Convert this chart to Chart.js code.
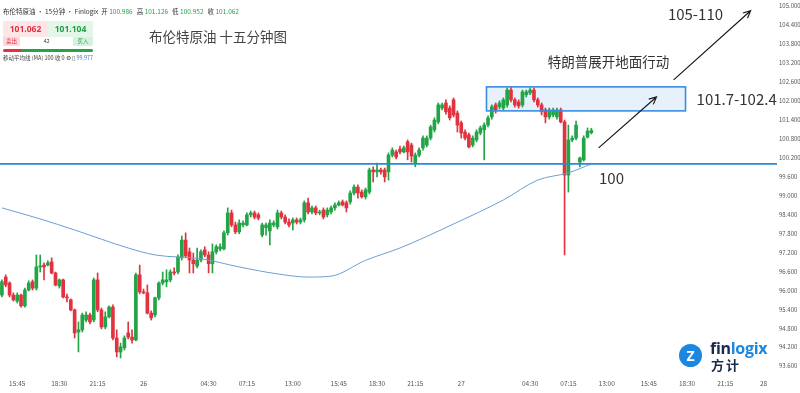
<!DOCTYPE html>
<html>
<head>
<meta charset="utf-8">
<script src="https://cdn.jsdelivr.net/npm/chart.js@4.4.1/dist/chart.umd.min.js"></script>
<style>
  html, body { margin: 0; padding: 0; background: #fff; overflow: hidden; }
  #wrap { position: relative; width: 800px; height: 393px; }
  #wrap canvas { position: absolute; left: 0; top: 0; }
  .cjk { font-family: "Noto Sans CJK SC", "Noto Sans", sans-serif; }
  #head { position: absolute; left: 3px; top: 6px; font-size: 6.5px; color: #333; white-space: nowrap; }
  #head .v { color: #22a447; margin-right: 4px; }
  .cell { position: absolute; box-sizing: border-box; text-align: center; white-space: nowrap; }
  #sellP { left: 3px; top: 21px; width: 45px; height: 16px; background: #fde6e8; color: #e2323f; font: bold 8.5px/16px "Noto Sans", sans-serif; }
  #buyP { left: 48px; top: 21px; width: 45px; height: 16px; background: #e4f6e8; color: #1f9e45; font: bold 8.5px/16px "Noto Sans", sans-serif; }
  #sell { left: 3px; top: 37px; width: 17px; height: 9px; background: #fbd9dc; color: #e2323f; font-size: 5.5px; line-height: 9px; }
  #spread { left: 20px; top: 37px; width: 53px; height: 9px; background: #fff; color: #444; font-size: 5.5px; line-height: 9px; }
  #buy { left: 73px; top: 37px; width: 20px; height: 9px; background: #d8f1de; color: #1f9e45; font-size: 5.5px; line-height: 9px; }
  #barR { left: 3px; top: 49px; width: 18px; height: 3px; background: #e2323f; border-radius: 2px 0 0 2px; }
  #barG { left: 21px; top: 49px; width: 72px; height: 3px; background: #22a447; border-radius: 0 2px 2px 0; }
  #maInfo { position: absolute; left: 3px; top: 54px; font-size: 5.5px; color: #444; white-space: nowrap; }
  #maInfo .b { color: #3a7bd5; }
  #logoDot { position: absolute; left: 679px; top: 344px; width: 23px; height: 23px; border-radius: 50%; background: #1c87e0; color: #fff; font: bold 14px/23px "Noto Sans", sans-serif; text-align: center; }
  #logoTxt { position: absolute; left: 710px; top: 337px; font: bold 16px "Open Sans", sans-serif; color: #1b2a4a; letter-spacing: -0.3px; }
  #logoTxt span { color: #1c87e0; }
  #logoCn { position: absolute; left: 711px; top: 355px; font-size: 13px; font-weight: bold; color: #1b2a4a; letter-spacing: 2px; }
</style>
</head>
<body>
<div id="wrap">
  <canvas id="chart" width="800" height="393"></canvas>
  <div id="head" class="cjk">布伦特原油 · 15分钟 · Finlogix&nbsp;&nbsp;开 <span class="v">100.986</span>高 <span class="v">101.126</span>低 <span class="v">100.952</span>收 <span class="v">101.062</span></div>
  <div id="sellP" class="cell">101.062</div>
  <div id="buyP" class="cell">101.104</div>
  <div id="sell" class="cell cjk">卖出</div>
  <div id="spread" class="cell cjk">42</div>
  <div id="buy" class="cell cjk">买入</div>
  <div id="barR" class="cell"></div>
  <div id="barG" class="cell"></div>
  <div id="maInfo" class="cjk">移动平均线 (MA) 100 收 0 ⚙ ▯ <span class="b">99.977</span></div>
  <div id="logoDot">Z</div>
  <div id="logoTxt">fin<span>logix</span></div>
  <div id="logoCn" class="cjk">方计</div>
</div>
<script>
// 15 minute Brent candles
const open = [
  95.85, 96.42, 96.23, 95.85, 95.66, 95.85, 95.51, 96.01, 96.27, 96.07,
  96.74, 96.80, 96.80, 96.90, 96.55, 96.14, 96.33, 95.79, 95.70, 95.38,
  94.68, 94.75, 95.06, 95.22, 95.06, 96.33, 95.38, 94.84, 95.16, 95.47,
  94.49, 94.05, 94.18, 94.65, 94.52, 94.43, 96.49, 95.95, 95.92, 95.28,
  95.22, 95.76, 96.23, 96.27, 96.33, 96.58, 96.58, 97.03, 97.59, 97.22,
  96.96, 96.77, 96.96, 97.28, 97.12, 96.84, 97.22, 97.31, 97.31, 97.82,
  98.45, 98.07, 97.85, 98.07, 98.07, 98.39, 98.45, 98.39, 97.75, 97.98,
  97.88, 98.07, 98.01, 98.45, 98.32, 98.16, 98.13, 98.23, 98.16, 98.23,
  98.77, 98.48, 98.61, 98.45, 98.54, 98.39, 98.48, 98.61, 98.70, 98.80,
  98.77, 98.80, 99.08, 99.27, 99.11, 98.96, 99.11, 99.81, 99.75, 99.81,
  99.81, 99.75, 100.28, 100.38, 100.47, 100.38, 100.70, 100.60, 100.03, 100.28,
  100.51, 100.60, 100.82, 101.08, 101.33, 101.77, 101.93, 101.77, 102.03, 101.61,
  101.30, 101.01, 100.92, 100.60, 100.76, 100.98, 101.08, 101.23, 101.49, 101.87,
  101.81, 101.77, 101.87, 102.34, 102.03, 101.96, 101.87, 102.19, 102.25, 102.34,
  102.03, 101.87, 101.71, 101.49, 101.55, 101.49, 101.71, 101.33, 99.65, 100.76,
  100.82, 100.06, 100.13, 100.85, 100.99
]
const high = [
  96.33, 96.49, 96.27, 95.92, 95.92, 95.88, 96.07, 96.30, 96.33, 97.12,
  97.12, 96.87, 96.93, 97.03, 96.58, 96.36, 96.36, 95.88, 95.73, 95.41,
  95.00, 95.28, 95.32, 95.28, 96.39, 96.55, 95.44, 95.32, 95.51, 95.54,
  94.75, 94.33, 94.56, 95.00, 94.75, 96.55, 96.80, 96.04, 96.17, 95.35,
  95.79, 96.27, 96.58, 96.65, 96.65, 96.71, 97.12, 97.72, 97.82, 97.34,
  97.18, 97.34, 97.28, 97.38, 97.22, 97.47, 97.44, 97.47, 97.88, 98.61,
  98.54, 98.16, 98.23, 98.20, 98.45, 98.51, 98.51, 98.45, 98.13, 98.13,
  98.23, 98.20, 98.54, 98.51, 98.39, 98.26, 98.29, 98.29, 98.29, 98.83,
  98.92, 98.67, 98.67, 98.54, 98.61, 98.61, 98.67, 98.77, 98.83, 98.86,
  98.83, 99.15, 99.34, 99.34, 99.18, 99.24, 99.87, 99.91, 100.03, 99.87,
  99.87, 100.35, 100.51, 100.44, 100.57, 100.57, 100.76, 100.66, 100.35, 100.51,
  100.89, 100.89, 101.23, 101.46, 101.93, 101.93, 102.03, 101.84, 102.09, 101.68,
  101.36, 101.08, 100.98, 100.89, 101.08, 101.20, 101.30, 101.52, 101.87, 101.93,
  102.00, 102.09, 102.41, 102.44, 102.09, 102.03, 102.34, 102.34, 102.41, 102.41,
  102.09, 101.93, 101.77, 101.77, 101.77, 101.77, 101.77, 101.39, 101.23, 100.89,
  101.36, 100.22, 100.89, 101.14, 101.13
]
const low = [
  95.79, 96.11, 95.79, 95.66, 95.60, 95.47, 95.47, 95.98, 96.01, 96.01,
  96.58, 96.33, 96.77, 96.52, 96.14, 96.07, 95.76, 95.63, 95.35, 94.49,
  94.05, 94.68, 95.00, 94.94, 95.00, 95.32, 94.78, 94.78, 95.13, 94.43,
  93.89, 93.86, 94.11, 94.46, 94.33, 94.40, 95.89, 95.89, 95.25, 95.06,
  95.16, 95.70, 96.17, 96.11, 96.27, 96.49, 96.52, 96.96, 97.03, 96.55,
  96.55, 96.71, 96.90, 97.06, 96.55, 96.55, 97.15, 97.25, 97.28, 97.75,
  98.01, 97.79, 97.79, 98.01, 98.04, 98.32, 98.26, 98.23, 97.69, 97.75,
  97.44, 98.01, 97.94, 98.26, 98.10, 98.01, 97.91, 98.10, 98.10, 98.16,
  98.42, 98.42, 98.39, 98.39, 98.26, 98.32, 98.42, 98.54, 98.67, 98.67,
  98.48, 98.73, 99.02, 98.92, 98.92, 98.89, 99.05, 99.43, 99.59, 99.68,
  99.43, 99.49, 100.22, 100.16, 100.32, 100.35, 100.13, 100.06, 99.91, 100.22,
  100.44, 100.54, 100.76, 101.01, 101.27, 101.71, 101.58, 101.39, 101.49, 101.01,
  100.82, 100.76, 100.51, 100.54, 100.70, 100.92, 100.13, 101.17, 101.42, 101.61,
  101.74, 101.71, 101.80, 101.96, 101.80, 101.77, 101.80, 102.12, 102.19, 101.96,
  101.80, 101.55, 101.30, 101.42, 101.49, 101.42, 101.30, 97.12, 99.11, 100.70,
  100.76, 99.91, 100.09, 100.82, 100.95
]
const close = [
  96.27, 96.17, 95.85, 95.70, 95.85, 95.51, 96.01, 96.23, 96.07, 96.74,
  96.77, 96.74, 96.87, 96.55, 96.17, 96.33, 95.79, 95.76, 95.38, 94.65,
  94.75, 95.22, 95.22, 95.00, 96.33, 95.38, 94.84, 95.16, 95.47, 94.49,
  94.05, 94.21, 94.49, 94.52, 94.43, 96.49, 95.95, 95.92, 95.28, 95.13,
  95.76, 96.23, 96.33, 96.33, 96.58, 96.55, 97.06, 97.59, 97.09, 96.96,
  96.84, 96.96, 97.22, 97.12, 96.84, 97.22, 97.38, 97.38, 97.82, 98.45,
  98.07, 97.85, 98.13, 98.13, 98.39, 98.45, 98.32, 98.29, 98.07, 98.07,
  98.13, 98.13, 98.45, 98.32, 98.16, 98.07, 98.23, 98.16, 98.23, 98.77,
  98.48, 98.61, 98.45, 98.48, 98.32, 98.54, 98.61, 98.70, 98.77, 98.70,
  98.61, 99.08, 99.27, 99.08, 98.96, 99.18, 99.81, 99.75, 99.81, 99.75,
  99.59, 100.28, 100.44, 100.22, 100.38, 100.51, 100.38, 100.25, 100.28, 100.44,
  100.82, 100.82, 101.17, 101.39, 101.87, 101.87, 101.65, 101.46, 101.55, 101.23,
  100.98, 100.82, 100.54, 100.82, 101.01, 101.14, 101.23, 101.46, 101.81, 101.71,
  101.93, 102.03, 102.34, 102.03, 101.87, 101.84, 102.28, 102.28, 102.34, 102.03,
  101.87, 101.65, 101.49, 101.71, 101.71, 101.71, 101.33, 99.65, 100.76, 100.82,
  101.23, 100.19, 100.82, 101.04, 101.06
]

// MA(100) read at a few bars
const maIndex = [0, 10, 19, 33, 40, 52, 62, 72, 80, 86, 95, 104, 118, 131, 140, 148, 154]
const maValue = [98.61, 98.26, 97.91, 97.34, 97.12, 97.00, 96.74, 96.52, 96.42, 96.45, 96.95, 97.34, 98.10, 98.86, 99.49, 99.72, 100.00]

// time axis: total bar slots incl. empty future space, and the labelled slots
const slotCount = 203
const tickIndex = [4, 15, 25, 37, 54, 64, 76, 88, 98, 108, 120, 138, 148, 158, 169, 179, 189, 199]
const tickText = ['15:45', '18:30', '21:15', '26', '04:30', '07:15', '13:00', '15:45', '18:30', '21:15', '27', '04:30', '07:15', '13:00', '15:45', '18:30', '21:15', '28']
const yTicks = [93.6, 94.2, 94.8, 95.4, 96.0, 96.6, 97.2, 97.8, 98.4, 99.0, 99.6, 100.2, 100.8, 101.4, 102.0, 102.6, 103.2, 103.8, 104.4, 105.0]

// drawings on the chart, in bar index / price units
const supportLevel = 100
const zone = { from: 126.6, to: 178.6, low: 101.68, high: 102.44 }
const shortArrow = [155.9, 100.51, 171.0, 102.12]
const longArrow = [175.5, 102.66, 195.6, 104.85]

const FONT = '"Noto Sans CJK SC", "Noto Sans", sans-serif'
const UP = '#22a447'
const DOWN = '#e2323f'

const labels = []
for (let i = 0; i < slotCount; i++) {
  const k = tickIndex.indexOf(i)
  labels.push(k >= 0 ? tickText[k] : '')
}
const colors = close.map((c, i) => c >= open[i] ? UP : DOWN)
const bodies = close.map((c, i) => [Math.min(open[i], c), Math.max(open[i], c)])
const wicks = close.map((c, i) => [low[i], high[i]])
const maData = close.map(() => null)
maIndex.forEach((k, j) => { maData[k] = maValue[j] })

const drawArrow = (ctx, x1, y1, x2, y2) => {
  const a = Math.atan2(y2 - y1, x2 - x1)
  ctx.beginPath()
  ctx.moveTo(x1, y1)
  ctx.lineTo(x2, y2)
  ctx.moveTo(x2 - 8 * Math.cos(a - 0.45), y2 - 8 * Math.sin(a - 0.45))
  ctx.lineTo(x2, y2)
  ctx.lineTo(x2 - 8 * Math.cos(a + 0.45), y2 - 8 * Math.sin(a + 0.45))
  ctx.stroke()
}

const zoneRect = (x, y) => {
  const x1 = x.getPixelForValue(zone.from), x2 = x.getPixelForValue(zone.to)
  const y1 = y.getPixelForValue(zone.high), y2 = y.getPixelForValue(zone.low)
  return [x1, y1, x2 - x1, y2 - y1]
}

const notes = {
  id: 'notes',
  beforeDatasetsDraw(chart) {
    const { ctx, scales: { x, y } } = chart
    ctx.save()
    ctx.fillStyle = '#e6f1fc'
    ctx.fillRect(...zoneRect(x, y))
    ctx.restore()
  },
  afterDatasetsDraw(chart) {
    const { ctx, chartArea, scales: { x, y } } = chart
    ctx.save()
    // zone border
    ctx.strokeStyle = '#3b8de3'
    ctx.lineWidth = 1.6
    ctx.strokeRect(...zoneRect(x, y))
    // support line
    const sy = y.getPixelForValue(supportLevel)
    ctx.strokeStyle = '#2b87dc'
    ctx.lineWidth = 1.8
    ctx.beginPath()
    ctx.moveTo(chartArea.left, sy)
    ctx.lineTo(chartArea.right, sy)
    ctx.stroke()
    // arrows
    ctx.strokeStyle = '#1a1a1a'
    ctx.lineWidth = 1.2
    drawArrow(ctx, x.getPixelForValue(shortArrow[0]), y.getPixelForValue(shortArrow[1]), x.getPixelForValue(shortArrow[2]), y.getPixelForValue(shortArrow[3]))
    drawArrow(ctx, x.getPixelForValue(longArrow[0]), y.getPixelForValue(longArrow[1]), x.getPixelForValue(longArrow[2]), y.getPixelForValue(longArrow[3]))
    // texts
    ctx.fillStyle = '#333'
    ctx.textBaseline = 'middle'
    ctx.font = '15px ' + FONT
    ctx.textAlign = 'center'
    ctx.fillText('105-110', x.getPixelForValue(181.2), y.getPixelForValue(104.75))
    ctx.font = '13.5px ' + FONT
    ctx.fillText('特朗普展开地面行动', x.getPixelForValue(158.5), y.getPixelForValue(103.22))
    ctx.textAlign = 'left'
    ctx.font = '15px ' + FONT
    ctx.fillText('101.7-102.4', x.getPixelForValue(181.5), y.getPixelForValue(102.05))
    ctx.fillText('100', x.getPixelForValue(156), y.getPixelForValue(99.56))
    // chart title
    ctx.font = '13.5px ' + FONT
    ctx.fillStyle = '#444'
    ctx.fillText('布伦特原油 十五分钟图', 149, 37)
    ctx.restore()
  }
}

new Chart(document.getElementById('chart'), {
  data: {
    labels: labels,
    datasets: [
      {
        type: 'line',
        data: maData,
        borderColor: '#6d9fd3',
        borderWidth: 1,
        pointRadius: 0,
        spanGaps: true,
        cubicInterpolationMode: 'monotone',
        order: 0
      },
      {
        type: 'bar',
        data: bodies,
        backgroundColor: colors,
        barThickness: 3,
        minBarLength: 1,
        grouped: false,
        order: 1
      },
      {
        type: 'bar',
        data: wicks,
        backgroundColor: colors,
        barThickness: 1,
        grouped: false,
        order: 2
      }
    ]
  },
  options: {
    responsive: false,
    animation: false,
    events: [],
    layout: { padding: 0 },
    plugins: { legend: { display: false }, tooltip: { enabled: false } },
    scales: {
      x: {
        type: 'category',
        offset: true,
        grid: { display: false, drawTicks: false },
        border: { display: false },
        ticks: {
          autoSkip: false, maxRotation: 0, minRotation: 0, padding: 5,
          color: '#555', font: { family: FONT, size: 6.5 }
        },
        afterFit: s => { s.height = 18; s.paddingLeft = 0; s.paddingRight = 0 }
      },
      y: {
        position: 'right',
        min: 93.32,
        max: 105.19,
        grid: { display: false, drawTicks: false },
        border: { display: false },
        afterBuildTicks: s => { s.ticks = yTicks.map(v => ({ value: v })) },
        ticks: {
          padding: 2,
          color: '#555',
          font: { family: FONT, size: 6 },
          callback: v => v.toFixed(3)
        },
        afterFit: s => { s.width = 23; s.paddingTop = 0; s.paddingBottom = 0 }
      }
    }
  },
  plugins: [notes]
})
</script>
</body>
</html>
